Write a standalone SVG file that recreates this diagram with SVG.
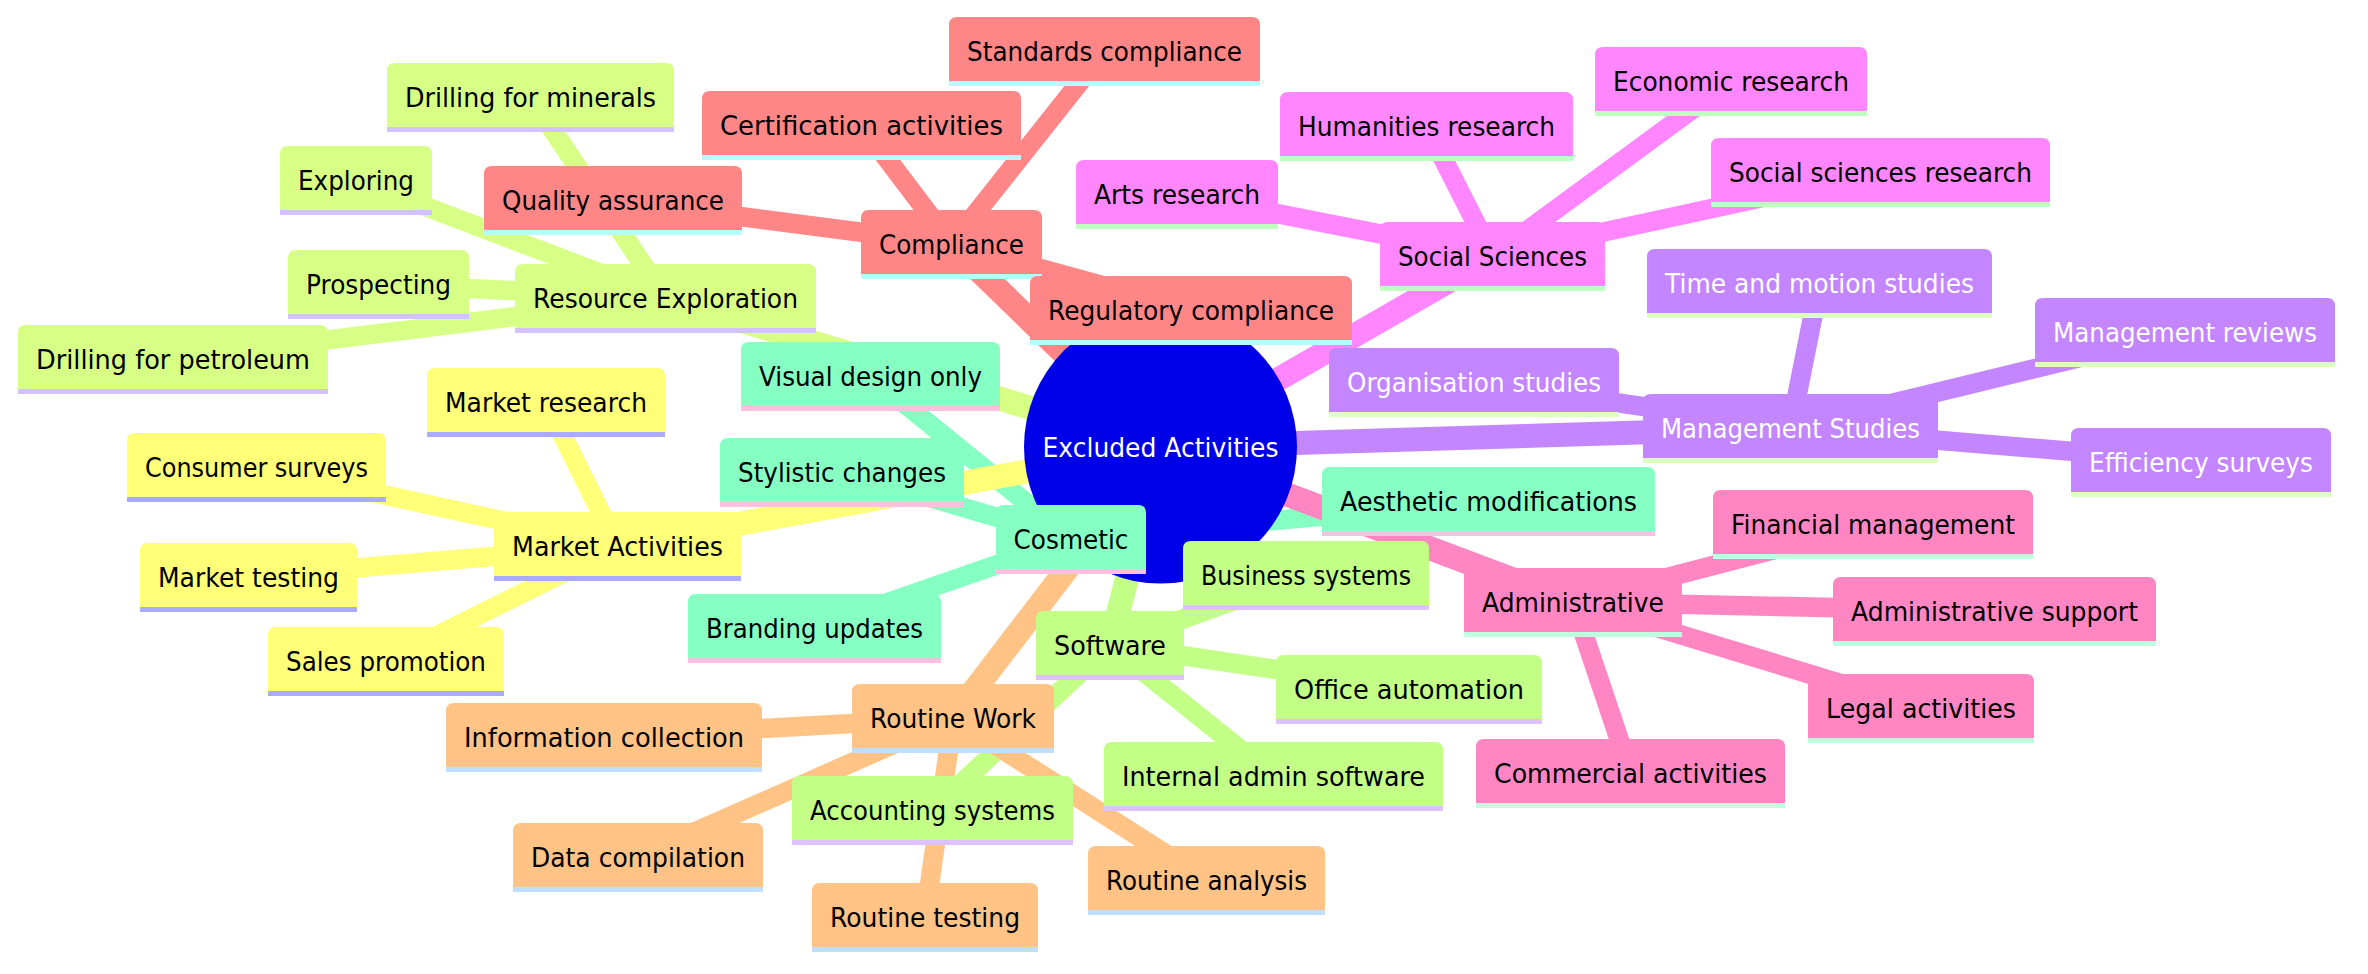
<svg xmlns="http://www.w3.org/2000/svg" width="2368" height="974" viewBox="0 0 2368 974">
<style>
text{font-family:"DejaVu Sans","Liberation Sans",sans-serif;font-size:26px;text-anchor:middle;fill:#000}
.node line{stroke-width:5.2}
.edges line{fill:none}
.leaf{stroke-width:19.5}
.main{stroke-width:24}
.mkt path{fill:hsl(60,100%,73.5%)} .mkt line{stroke:#aaaaff} .e-mkt{stroke:hsl(60,100%,73.5%)}
.res path{fill:hsl(80,100%,76.3%)} .res line{stroke:#d3c2ff} .e-res{stroke:hsl(80,100%,76.3%)}
.mgt path{fill:hsl(270,100%,76.3%)} .mgt line{stroke:#deffc2} .mgt text{fill:#fff} .e-mgt{stroke:hsl(270,100%,76.3%)}
.soc path{fill:hsl(300,100%,76.3%)} .soc line{stroke:#bfffc0} .e-soc{stroke:hsl(300,100%,76.3%)}
.adm path{fill:hsl(330,100%,76.3%)} .adm line{stroke:#bfffe0} .e-adm{stroke:hsl(330,100%,76.3%)}
.cmp path{fill:hsl(0,100%,76.3%)} .cmp line{stroke:#b3ffff} .e-cmp{stroke:hsl(0,100%,76.3%)}
.rtn path{fill:hsl(30,100%,76.3%)} .rtn line{stroke:#c0deff} .e-rtn{stroke:hsl(30,100%,76.3%)}
.sw path{fill:hsl(90,100%,76.3%)} .sw line{stroke:#ddc2ff} .e-sw{stroke:hsl(90,100%,76.3%)}
.cos path{fill:hsl(150,100%,76.3%)} .cos line{stroke:#ffc0df} .e-cos{stroke:hsl(150,100%,76.3%)}
</style>
<g id="connectors" class="edges">
<!-- leaf edges -->
<line class="leaf e-res" x1="665.5" y1="298" x2="530.5" y2="97"/>
<line class="leaf e-res" x1="665.5" y1="298" x2="356" y2="180"/>
<line class="leaf e-res" x1="665.5" y1="298" x2="378.5" y2="284"/>
<line class="leaf e-res" x1="665.5" y1="298" x2="173" y2="359"/>
<line class="leaf e-cmp" x1="951.5" y1="244" x2="613" y2="200"/>
<line class="leaf e-cmp" x1="951.5" y1="244" x2="861.5" y2="125"/>
<line class="leaf e-cmp" x1="951.5" y1="244" x2="1104.5" y2="51"/>
<line class="leaf e-cmp" x1="951.5" y1="244" x2="1191" y2="310"/>
<line class="leaf e-soc" x1="1492.5" y1="256" x2="1177" y2="194"/>
<line class="leaf e-soc" x1="1492.5" y1="256" x2="1426.5" y2="126"/>
<line class="leaf e-soc" x1="1492.5" y1="256" x2="1731" y2="81"/>
<line class="leaf e-soc" x1="1492.5" y1="256" x2="1880.5" y2="172"/>
<line class="leaf e-mgt" x1="1790.5" y1="428" x2="1474" y2="382"/>
<line class="leaf e-mgt" x1="1790.5" y1="428" x2="1819.5" y2="283"/>
<line class="leaf e-mgt" x1="1790.5" y1="428" x2="2185" y2="332"/>
<line class="leaf e-mgt" x1="1790.5" y1="428" x2="2201" y2="462"/>
<line class="leaf e-adm" x1="1573" y1="602" x2="1873" y2="524"/>
<line class="leaf e-adm" x1="1573" y1="602" x2="1994.5" y2="611"/>
<line class="leaf e-adm" x1="1573" y1="602" x2="1921" y2="708"/>
<line class="leaf e-adm" x1="1573" y1="602" x2="1630.5" y2="773"/>
<line class="leaf e-sw" x1="1110" y1="645" x2="1306" y2="575"/>
<line class="leaf e-sw" x1="1110" y1="645" x2="1409" y2="689"/>
<line class="leaf e-sw" x1="1110" y1="645" x2="1273.5" y2="776"/>
<line class="leaf e-sw" x1="1110" y1="645" x2="932.5" y2="810"/>
<line class="leaf e-rtn" x1="953" y1="718" x2="604" y2="737"/>
<line class="leaf e-rtn" x1="953" y1="718" x2="638" y2="857"/>
<line class="leaf e-rtn" x1="953" y1="718" x2="925" y2="917"/>
<line class="leaf e-rtn" x1="953" y1="718" x2="1206.5" y2="880"/>
<line class="leaf e-cos" x1="1071" y1="539" x2="870.5" y2="376"/>
<line class="leaf e-cos" x1="1071" y1="539" x2="842" y2="472"/>
<line class="leaf e-cos" x1="1071" y1="539" x2="814.5" y2="628"/>
<line class="leaf e-cos" x1="1071" y1="539" x2="1488.5" y2="501"/>
<line class="leaf e-mkt" x1="617.5" y1="546" x2="546" y2="402"/>
<line class="leaf e-mkt" x1="617.5" y1="546" x2="256.5" y2="467"/>
<line class="leaf e-mkt" x1="617.5" y1="546" x2="248.5" y2="577"/>
<line class="leaf e-mkt" x1="617.5" y1="546" x2="386" y2="661"/>
<!-- root edges -->
<line class="main e-res" x1="1160.5" y1="447" x2="665.5" y2="298"/>
<line class="main e-cmp" x1="1160.5" y1="447" x2="951.5" y2="244"/>
<line class="main e-soc" x1="1160.5" y1="447" x2="1492.5" y2="256"/>
<line class="main e-mgt" x1="1160.5" y1="447" x2="1790.5" y2="428"/>
<line class="main e-adm" x1="1160.5" y1="447" x2="1573" y2="602"/>
<line class="main e-sw" x1="1160.5" y1="447" x2="1110" y2="645"/>
<line class="main e-rtn" x1="1160.5" y1="447" x2="953" y2="718"/>
<line class="main e-cos" x1="1160.5" y1="447" x2="1071" y2="539"/>
<line class="main e-mkt" x1="1160.5" y1="447" x2="617.5" y2="546"/>
</g>
<g id="root">
<circle cx="1160.5" cy="447" r="136.5" fill="#0000e8"/>
<text x="1160.5" y="457" textLength="236" lengthAdjust="spacingAndGlyphs" style="fill:#fff">Excluded Activities</text>
</g>
<g id="n-drill-min" class="node res" transform="translate(387,63)"><path d="M0,66.5V8Q0,0 8,0H279Q287,0 287,8V66.5Z"/><line x1="0" y1="66.5" x2="287" y2="66.5"/><text x="143.5" y="44" textLength="251" lengthAdjust="spacingAndGlyphs">Drilling for minerals</text></g>
<g id="n-exploring" class="node res" transform="translate(280,146)"><path d="M0,66.5V8Q0,0 8,0H144Q152,0 152,8V66.5Z"/><line x1="0" y1="66.5" x2="152" y2="66.5"/><text x="76" y="44" textLength="116" lengthAdjust="spacingAndGlyphs">Exploring</text></g>
<g id="n-prospecting" class="node res" transform="translate(288,250)"><path d="M0,66.5V8Q0,0 8,0H173Q181,0 181,8V66.5Z"/><line x1="0" y1="66.5" x2="181" y2="66.5"/><text x="90.5" y="44" textLength="145" lengthAdjust="spacingAndGlyphs">Prospecting</text></g>
<g id="n-drill-pet" class="node res" transform="translate(18,325)"><path d="M0,66.5V8Q0,0 8,0H302Q310,0 310,8V66.5Z"/><line x1="0" y1="66.5" x2="310" y2="66.5"/><text x="155" y="44" textLength="274" lengthAdjust="spacingAndGlyphs">Drilling for petroleum</text></g>
<g id="n-resource" class="node res" transform="translate(515,264)"><path d="M0,66.5V8Q0,0 8,0H293Q301,0 301,8V66.5Z"/><line x1="0" y1="66.5" x2="301" y2="66.5"/><text x="150.5" y="44" textLength="265" lengthAdjust="spacingAndGlyphs">Resource Exploration</text></g>
<g id="n-qa" class="node cmp" transform="translate(484,166)"><path d="M0,66.5V8Q0,0 8,0H250Q258,0 258,8V66.5Z"/><line x1="0" y1="66.5" x2="258" y2="66.5"/><text x="129" y="44" textLength="222" lengthAdjust="spacingAndGlyphs">Quality assurance</text></g>
<g id="n-cert" class="node cmp" transform="translate(702,91)"><path d="M0,66.5V8Q0,0 8,0H311Q319,0 319,8V66.5Z"/><line x1="0" y1="66.5" x2="319" y2="66.5"/><text x="159.5" y="44" textLength="283" lengthAdjust="spacingAndGlyphs">Certification activities</text></g>
<g id="n-standards" class="node cmp" transform="translate(949,17)"><path d="M0,66.5V8Q0,0 8,0H303Q311,0 311,8V66.5Z"/><line x1="0" y1="66.5" x2="311" y2="66.5"/><text x="155.5" y="44" textLength="275" lengthAdjust="spacingAndGlyphs">Standards compliance</text></g>
<g id="n-compliance" class="node cmp" transform="translate(861,210)"><path d="M0,66.5V8Q0,0 8,0H173Q181,0 181,8V66.5Z"/><line x1="0" y1="66.5" x2="181" y2="66.5"/><text x="90.5" y="44" textLength="145" lengthAdjust="spacingAndGlyphs">Compliance</text></g>
<g id="n-regulatory" class="node cmp" transform="translate(1030,276)"><path d="M0,66.5V8Q0,0 8,0H314Q322,0 322,8V66.5Z"/><line x1="0" y1="66.5" x2="322" y2="66.5"/><text x="161" y="44" textLength="286" lengthAdjust="spacingAndGlyphs">Regulatory compliance</text></g>
<g id="n-arts" class="node soc" transform="translate(1076,160)"><path d="M0,66.5V8Q0,0 8,0H194Q202,0 202,8V66.5Z"/><line x1="0" y1="66.5" x2="202" y2="66.5"/><text x="101" y="44" textLength="166" lengthAdjust="spacingAndGlyphs">Arts research</text></g>
<g id="n-humanities" class="node soc" transform="translate(1280,92)"><path d="M0,66.5V8Q0,0 8,0H285Q293,0 293,8V66.5Z"/><line x1="0" y1="66.5" x2="293" y2="66.5"/><text x="146.5" y="44" textLength="257" lengthAdjust="spacingAndGlyphs">Humanities research</text></g>
<g id="n-social" class="node soc" transform="translate(1380,222)"><path d="M0,66.5V8Q0,0 8,0H217Q225,0 225,8V66.5Z"/><line x1="0" y1="66.5" x2="225" y2="66.5"/><text x="112.5" y="44" textLength="189" lengthAdjust="spacingAndGlyphs">Social Sciences</text></g>
<g id="n-economic" class="node soc" transform="translate(1595,47)"><path d="M0,66.5V8Q0,0 8,0H264Q272,0 272,8V66.5Z"/><line x1="0" y1="66.5" x2="272" y2="66.5"/><text x="136" y="44" textLength="236" lengthAdjust="spacingAndGlyphs">Economic research</text></g>
<g id="n-socsci" class="node soc" transform="translate(1711,138)"><path d="M0,66.5V8Q0,0 8,0H331Q339,0 339,8V66.5Z"/><line x1="0" y1="66.5" x2="339" y2="66.5"/><text x="169.5" y="44" textLength="303" lengthAdjust="spacingAndGlyphs">Social sciences research</text></g>
<g id="n-organisation" class="node mgt" transform="translate(1329,348)"><path d="M0,66.5V8Q0,0 8,0H282Q290,0 290,8V66.5Z"/><line x1="0" y1="66.5" x2="290" y2="66.5"/><text x="145" y="44" textLength="254" lengthAdjust="spacingAndGlyphs">Organisation studies</text></g>
<g id="n-time" class="node mgt" transform="translate(1647,249)"><path d="M0,66.5V8Q0,0 8,0H337Q345,0 345,8V66.5Z"/><line x1="0" y1="66.5" x2="345" y2="66.5"/><text x="172.5" y="44" textLength="309" lengthAdjust="spacingAndGlyphs">Time and motion studies</text></g>
<g id="n-mgmtrev" class="node mgt" transform="translate(2035,298)"><path d="M0,66.5V8Q0,0 8,0H292Q300,0 300,8V66.5Z"/><line x1="0" y1="66.5" x2="300" y2="66.5"/><text x="150" y="44" textLength="264" lengthAdjust="spacingAndGlyphs">Management reviews</text></g>
<g id="n-mgmt" class="node mgt" transform="translate(1643,394)"><path d="M0,66.5V8Q0,0 8,0H287Q295,0 295,8V66.5Z"/><line x1="0" y1="66.5" x2="295" y2="66.5"/><text x="147.5" y="44" textLength="259" lengthAdjust="spacingAndGlyphs">Management Studies</text></g>
<g id="n-efficiency" class="node mgt" transform="translate(2071,428)"><path d="M0,66.5V8Q0,0 8,0H252Q260,0 260,8V66.5Z"/><line x1="0" y1="66.5" x2="260" y2="66.5"/><text x="130" y="44" textLength="224" lengthAdjust="spacingAndGlyphs">Efficiency surveys</text></g>
<g id="n-mktres" class="node mkt" transform="translate(427,368)"><path d="M0,66.5V8Q0,0 8,0H230Q238,0 238,8V66.5Z"/><line x1="0" y1="66.5" x2="238" y2="66.5"/><text x="119" y="44" textLength="202" lengthAdjust="spacingAndGlyphs">Market research</text></g>
<g id="n-consumer" class="node mkt" transform="translate(127,433)"><path d="M0,66.5V8Q0,0 8,0H251Q259,0 259,8V66.5Z"/><line x1="0" y1="66.5" x2="259" y2="66.5"/><text x="129.5" y="44" textLength="223" lengthAdjust="spacingAndGlyphs">Consumer surveys</text></g>
<g id="n-market" class="node mkt" transform="translate(494,512)"><path d="M0,66.5V8Q0,0 8,0H239Q247,0 247,8V66.5Z"/><line x1="0" y1="66.5" x2="247" y2="66.5"/><text x="123.5" y="44" textLength="211" lengthAdjust="spacingAndGlyphs">Market Activities</text></g>
<g id="n-mkttest" class="node mkt" transform="translate(140,543)"><path d="M0,66.5V8Q0,0 8,0H209Q217,0 217,8V66.5Z"/><line x1="0" y1="66.5" x2="217" y2="66.5"/><text x="108.5" y="44" textLength="181" lengthAdjust="spacingAndGlyphs">Market testing</text></g>
<g id="n-sales" class="node mkt" transform="translate(268,627)"><path d="M0,66.5V8Q0,0 8,0H228Q236,0 236,8V66.5Z"/><line x1="0" y1="66.5" x2="236" y2="66.5"/><text x="118" y="44" textLength="200" lengthAdjust="spacingAndGlyphs">Sales promotion</text></g>
<g id="n-visual" class="node cos" transform="translate(741,342)"><path d="M0,66.5V8Q0,0 8,0H251Q259,0 259,8V66.5Z"/><line x1="0" y1="66.5" x2="259" y2="66.5"/><text x="129.5" y="44" textLength="223" lengthAdjust="spacingAndGlyphs">Visual design only</text></g>
<g id="n-stylistic" class="node cos" transform="translate(720,438)"><path d="M0,66.5V8Q0,0 8,0H236Q244,0 244,8V66.5Z"/><line x1="0" y1="66.5" x2="244" y2="66.5"/><text x="122" y="44" textLength="208" lengthAdjust="spacingAndGlyphs">Stylistic changes</text></g>
<g id="n-cosmetic" class="node cos" transform="translate(996,505)"><path d="M0,66.5V8Q0,0 8,0H142Q150,0 150,8V66.5Z"/><line x1="0" y1="66.5" x2="150" y2="66.5"/><text x="75" y="44" textLength="115" lengthAdjust="spacingAndGlyphs">Cosmetic</text></g>
<g id="n-branding" class="node cos" transform="translate(688,594)"><path d="M0,66.5V8Q0,0 8,0H245Q253,0 253,8V66.5Z"/><line x1="0" y1="66.5" x2="253" y2="66.5"/><text x="126.5" y="44" textLength="217" lengthAdjust="spacingAndGlyphs">Branding updates</text></g>
<g id="n-aesthetic" class="node cos" transform="translate(1322,467)"><path d="M0,66.5V8Q0,0 8,0H325Q333,0 333,8V66.5Z"/><line x1="0" y1="66.5" x2="333" y2="66.5"/><text x="166.5" y="44" textLength="297" lengthAdjust="spacingAndGlyphs">Aesthetic modifications</text></g>
<g id="n-info" class="node rtn" transform="translate(446,703)"><path d="M0,66.5V8Q0,0 8,0H308Q316,0 316,8V66.5Z"/><line x1="0" y1="66.5" x2="316" y2="66.5"/><text x="158" y="44" textLength="280" lengthAdjust="spacingAndGlyphs">Information collection</text></g>
<g id="n-data" class="node rtn" transform="translate(513,823)"><path d="M0,66.5V8Q0,0 8,0H242Q250,0 250,8V66.5Z"/><line x1="0" y1="66.5" x2="250" y2="66.5"/><text x="125" y="44" textLength="214" lengthAdjust="spacingAndGlyphs">Data compilation</text></g>
<g id="n-routine" class="node rtn" transform="translate(852,684)"><path d="M0,66.5V8Q0,0 8,0H194Q202,0 202,8V66.5Z"/><line x1="0" y1="66.5" x2="202" y2="66.5"/><text x="101" y="44" textLength="166" lengthAdjust="spacingAndGlyphs">Routine Work</text></g>
<g id="n-rtest" class="node rtn" transform="translate(812,883)"><path d="M0,66.5V8Q0,0 8,0H218Q226,0 226,8V66.5Z"/><line x1="0" y1="66.5" x2="226" y2="66.5"/><text x="113" y="44" textLength="190" lengthAdjust="spacingAndGlyphs">Routine testing</text></g>
<g id="n-ranalysis" class="node rtn" transform="translate(1088,846)"><path d="M0,66.5V8Q0,0 8,0H229Q237,0 237,8V66.5Z"/><line x1="0" y1="66.5" x2="237" y2="66.5"/><text x="118.5" y="44" textLength="201" lengthAdjust="spacingAndGlyphs">Routine analysis</text></g>
<g id="n-accounting" class="node sw" transform="translate(792,776)"><path d="M0,66.5V8Q0,0 8,0H273Q281,0 281,8V66.5Z"/><line x1="0" y1="66.5" x2="281" y2="66.5"/><text x="140.5" y="44" textLength="245" lengthAdjust="spacingAndGlyphs">Accounting systems</text></g>
<g id="n-software" class="node sw" transform="translate(1036,611)"><path d="M0,66.5V8Q0,0 8,0H140Q148,0 148,8V66.5Z"/><line x1="0" y1="66.5" x2="148" y2="66.5"/><text x="74" y="44" textLength="112" lengthAdjust="spacingAndGlyphs">Software</text></g>
<g id="n-business" class="node sw" transform="translate(1183,541)"><path d="M0,66.5V8Q0,0 8,0H238Q246,0 246,8V66.5Z"/><line x1="0" y1="66.5" x2="246" y2="66.5"/><text x="123" y="44" textLength="210" lengthAdjust="spacingAndGlyphs">Business systems</text></g>
<g id="n-office" class="node sw" transform="translate(1276,655)"><path d="M0,66.5V8Q0,0 8,0H258Q266,0 266,8V66.5Z"/><line x1="0" y1="66.5" x2="266" y2="66.5"/><text x="133" y="44" textLength="230" lengthAdjust="spacingAndGlyphs">Office automation</text></g>
<g id="n-internal" class="node sw" transform="translate(1104,742)"><path d="M0,66.5V8Q0,0 8,0H331Q339,0 339,8V66.5Z"/><line x1="0" y1="66.5" x2="339" y2="66.5"/><text x="169.5" y="44" textLength="303" lengthAdjust="spacingAndGlyphs">Internal admin software</text></g>
<g id="n-administrative" class="node adm" transform="translate(1464,568)"><path d="M0,66.5V8Q0,0 8,0H210Q218,0 218,8V66.5Z"/><line x1="0" y1="66.5" x2="218" y2="66.5"/><text x="109" y="44" textLength="182" lengthAdjust="spacingAndGlyphs">Administrative</text></g>
<g id="n-financial" class="node adm" transform="translate(1713,490)"><path d="M0,66.5V8Q0,0 8,0H312Q320,0 320,8V66.5Z"/><line x1="0" y1="66.5" x2="320" y2="66.5"/><text x="160" y="44" textLength="284" lengthAdjust="spacingAndGlyphs">Financial management</text></g>
<g id="n-adminsupport" class="node adm" transform="translate(1833,577)"><path d="M0,66.5V8Q0,0 8,0H315Q323,0 323,8V66.5Z"/><line x1="0" y1="66.5" x2="323" y2="66.5"/><text x="161.5" y="44" textLength="287" lengthAdjust="spacingAndGlyphs">Administrative support</text></g>
<g id="n-legal" class="node adm" transform="translate(1808,674)"><path d="M0,66.5V8Q0,0 8,0H218Q226,0 226,8V66.5Z"/><line x1="0" y1="66.5" x2="226" y2="66.5"/><text x="113" y="44" textLength="190" lengthAdjust="spacingAndGlyphs">Legal activities</text></g>
<g id="n-commercial" class="node adm" transform="translate(1476,739)"><path d="M0,66.5V8Q0,0 8,0H301Q309,0 309,8V66.5Z"/><line x1="0" y1="66.5" x2="309" y2="66.5"/><text x="154.5" y="44" textLength="273" lengthAdjust="spacingAndGlyphs">Commercial activities</text></g>
</svg>
